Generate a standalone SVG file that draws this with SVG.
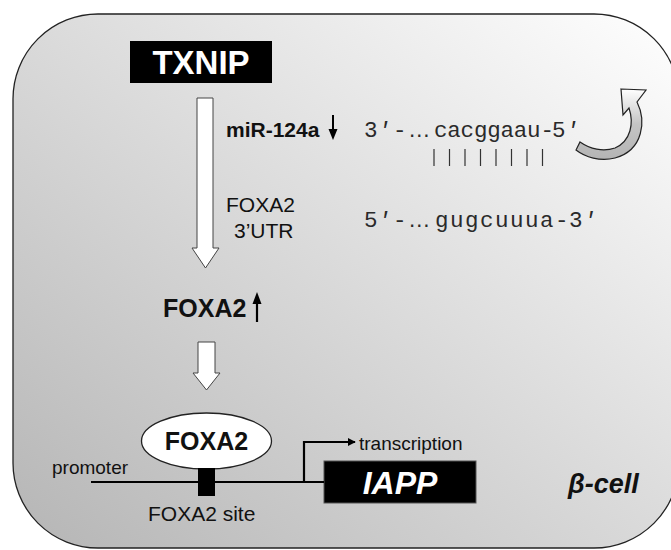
<svg xmlns="http://www.w3.org/2000/svg" width="671" height="550" viewBox="0 0 671 550">
  <defs>
    <linearGradient id="cellFill" x1="0" y1="1" x2="1" y2="0">
      <stop offset="0" stop-color="#b5b5b5"/>
      <stop offset="1" stop-color="#ffffff"/>
    </linearGradient>
    <linearGradient id="loopFill" x1="0" y1="1" x2="0" y2="0">
      <stop offset="0" stop-color="#b4b4b4"/>
      <stop offset="0.5" stop-color="#c4c4c4"/>
      <stop offset="1" stop-color="#ffffff"/>
    </linearGradient>
    <marker id="head" viewBox="0 0 10 10" refX="9" refY="5" markerWidth="8" markerHeight="8" markerUnits="userSpaceOnUse" orient="auto">
      <path d="M0,0 L10,5 L0,10 Z" fill="#000"/>
    </marker>
    <style>
      .sans { font-family: "Liberation Sans", Arial, sans-serif; fill: #111; }
      .bold { font-weight: bold; }
      .mono { font-family: "Liberation Mono", "Courier New", monospace; fill: #2a2a2a; font-size: 22.5px; }
      .pr { font-style: italic; }
      .dots { font-family: "Liberation Sans", Arial, sans-serif; }
      .block { fill: #fff; stroke: #444; stroke-width: 1; }
      .wire { fill: none; stroke: #000; stroke-width: 2.2; }
      .bar { stroke: #333; stroke-width: 1.2; }
    </style>
  </defs>

  <!-- cell outline -->
  <rect id="cell" x="13" y="14" width="666" height="534" rx="85" ry="85" fill="url(#cellFill)" stroke="#222" stroke-width="1.3"/>

  <g id="txnip">
    <rect x="130" y="41" width="142" height="42" fill="#000"/>
    <text x="201" y="74" text-anchor="middle" class="sans bold" style="fill:#fff" font-size="33">TXNIP</text>
  </g>

  <g id="mir124a">
    <text x="226" y="137" class="sans bold" font-size="21">miR-124a</text>
    <line x1="333" y1="115" x2="333" y2="131" stroke="#000" stroke-width="2"/>
    <path d="M328.5,129 L337.5,129 L333,140 Z" fill="#000"/>
  </g>

  <g id="utr">
    <text x="226" y="212" class="sans" font-size="21">FOXA2</text>
    <text x="234" y="238" class="sans" font-size="21">3’UTR</text>
  </g>

  <g id="duplex">
    <!-- miRNA strand -->
    <text y="137" class="mono"><tspan x="364">3</tspan><tspan x="377.5" class="pr">′</tspan><tspan x="393">-</tspan><tspan x="408" class="dots">…</tspan><tspan x="434 447.3 460.6 473.9 487.2 500.5 513.8 527.1 540.4 552">cacggaau-5</tspan><tspan x="565.5" class="pr">′</tspan></text>
    <g class="bar">
      <line x1="434" y1="149" x2="434" y2="166"/>
      <line x1="449.5" y1="149" x2="449.5" y2="166"/>
      <line x1="465" y1="149" x2="465" y2="166"/>
      <line x1="480.5" y1="149" x2="480.5" y2="166"/>
      <line x1="496" y1="149" x2="496" y2="166"/>
      <line x1="511.5" y1="149" x2="511.5" y2="166"/>
      <line x1="527" y1="149" x2="527" y2="166"/>
      <line x1="542.5" y1="149" x2="542.5" y2="166"/>
    </g>
    <!-- target strand -->
    <text y="227" class="mono"><tspan x="364">5</tspan><tspan x="377.5" class="pr">′</tspan><tspan x="393">-</tspan><tspan x="408" class="dots">…</tspan><tspan x="435 450 465 480 495 510 525 540 555 569">gugcuuua-3</tspan><tspan x="583" class="pr">′</tspan></text>
  </g>

  <g id="foxa2-up">
    <text x="163" y="317" class="sans bold" font-size="25">FOXA2</text>
    <line x1="257" y1="302" x2="257" y2="322" stroke="#000" stroke-width="2.2"/>
    <path d="M252.5,304 L261.5,304 L257,292 Z" fill="#000"/>
  </g>

  <g id="foxa2-protein">
    <ellipse cx="206.5" cy="441" rx="65" ry="28" fill="#fff" stroke="#222" stroke-width="1.3"/>
    <text x="206.5" y="450" text-anchor="middle" class="sans bold" font-size="25">FOXA2</text>
  </g>

  <g id="promoter">
    <text x="52" y="474" class="sans" font-size="19">promoter</text>
    <text x="148" y="521" class="sans" font-size="21">FOXA2 site</text>
  </g>

  <g id="iapp">
    <rect x="324" y="461" width="152" height="42" fill="#000" stroke="#555" stroke-width="1"/>
    <text x="400" y="494" text-anchor="middle" class="sans bold" style="fill:#fff;font-style:italic" font-size="32">IAPP</text>
  </g>

  <g id="transcription">
    <text x="359" y="450" class="sans" font-size="19">transcription</text>
  </g>

  <g id="beta-cell">
    <text x="568" y="493" class="sans bold" style="font-style:italic" font-size="27">β-cell</text>
  </g>

  <g id="connectors">
    <!-- long block arrow TXNIP to FOXA2 -->
    <path class="block" d="M197,98 H213 V248 H219 L205.5,268 L192,248 H197 Z"/>
    <!-- short block arrow FOXA2 to protein -->
    <path class="block" d="M198,342 H215 V373 H220 L206.5,390 L193,373 H198 Z"/>
    <!-- curved loop arrow -->
    <path d="M621,89 L646,90 L637,102 C646,120 644,150 615,158 C600,162 585,157 576,150 L580,142 C590,149 603,152 615,148 C631,141 634,123 629,108 L623,115 Z" fill="url(#loopFill)" stroke="#222" stroke-width="1.2"/>
    <!-- promoter DNA line -->
    <line class="wire" x1="91" y1="482" x2="324" y2="482"/>
    <!-- FOXA2 binding site -->
    <rect x="198" y="468" width="17" height="28" fill="#000"/>
    <!-- transcription start arrow -->
    <path class="wire" d="M304,482 V442 H355" marker-end="url(#head)" stroke-width="2"/>
  </g>
</svg>
